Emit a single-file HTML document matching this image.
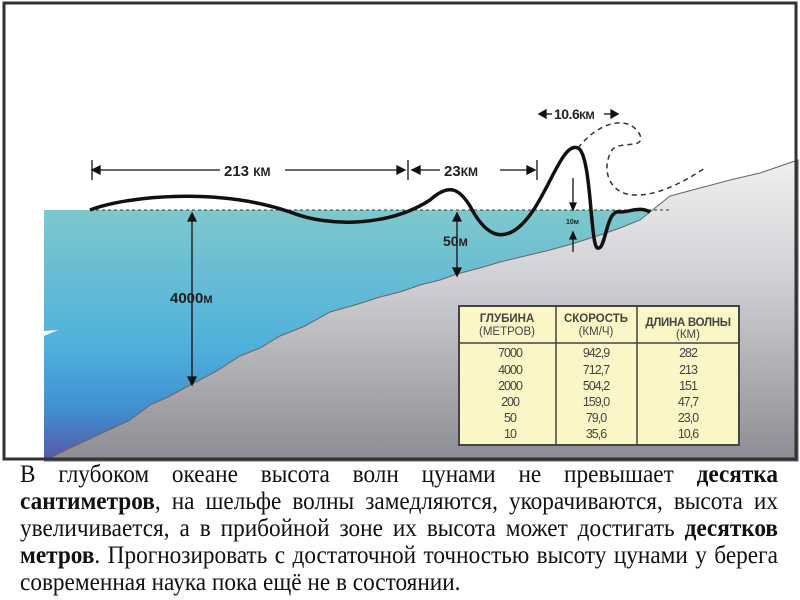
<!DOCTYPE html>
<html><head><meta charset="utf-8">
<style>
body{margin:0;width:800px;height:600px;background:#fff;overflow:hidden;position:relative;font-family:"Liberation Sans",sans-serif}
.txt{position:absolute;left:20px;width:815px;top:461px;font-family:"Liberation Serif",serif;font-size:25px;color:#111;transform:scaleX(0.93);transform-origin:0 0}
.l{height:27px;line-height:27px;text-align:justify;text-align-last:justify;white-space:nowrap;overflow:visible}
.l.last{text-align-last:left}
b{font-weight:bold}
</style></head><body>
<svg width="800" height="462" style="position:absolute;left:0;top:0" xmlns="http://www.w3.org/2000/svg">
<defs>
<linearGradient id="w" x1="0" y1="0" x2="0" y2="1">
<stop offset="0" stop-color="#7ec8cc"/>
<stop offset="0.55" stop-color="#4fb0dc"/>
<stop offset="0.8" stop-color="#3f8fd0"/>
<stop offset="1" stop-color="#5858a8"/>
</linearGradient>
<linearGradient id="g" x1="0" y1="0" x2="0" y2="1">
<stop offset="0" stop-color="#f0f0f2"/>
<stop offset="0.4" stop-color="#d0d0d4"/>
<stop offset="1" stop-color="#8c8c92"/>
</linearGradient>
</defs>
<rect x="0" y="0" width="800" height="462" fill="#fff"/>
<rect x="44" y="210" width="620" height="250" fill="url(#w)"/>
<path d="M30 332 L58 330 L44 336 L44 332Z" fill="#fff"/>
<path d="M44 461 L70 448 L100 434 L130 420 L150 405 L170 396 L190 385 L215 372 L240 356 L260 348 L280 336 L305 326 L330 312 L355 305 L380 297 L400 292 L420 285 L440 280 L457 274 L480 268 L500 262 L525 256 L550 250 L575 243 L600 235 L620 228 L640 220 L655 208 L670 196 L700 188 L730 180 L760 173 L798 160 L798 461 Z" fill="url(#g)" stroke="#666" stroke-width="1"/>
<line x1="90" y1="210" x2="672" y2="210" stroke="#333" stroke-width="1" stroke-dasharray="3,3"/>
<path d="M90 210 C130 195 220 188 290 212 C330 228 390 226 430 200 C450 182 460 190 470 206 C485 235 500 240 515 230 C545 210 560 140 578 148 C592 155 590 250 598 248 C606 250 606 208 620 212 C630 212 640 206 650 212" fill="none" stroke="#111" stroke-width="3.5"/>
<path d="M578 148 C600 120 630 115 640 135 C645 150 620 140 612 150 C600 170 610 195 635 195 C660 196 690 178 705 168" fill="none" stroke="#333" stroke-width="1.5" stroke-dasharray="5,4"/>
<g stroke="#111" stroke-width="1.3" fill="#111">
<line x1="92" y1="160" x2="92" y2="180"/><line x1="92" y1="170" x2="220" y2="170"/><line x1="285" y1="170" x2="405" y2="170"/>
<line x1="408" y1="160" x2="408" y2="180"/><line x1="412" y1="170" x2="440" y2="170"/><line x1="500" y1="170" x2="535" y2="170"/><line x1="537" y1="160" x2="537" y2="180"/>
<path d="M92 170 l8 -4 v8z M405 170 l-8 -4 v8z M412 170 l8 -4 v8z M535 170 l-8 -4 v8z"/>
<line x1="192" y1="214" x2="192" y2="382"/><path d="M192 213 l-4 8 h8z M192 385 l-4 -8 h8z"/>
<line x1="457" y1="214" x2="457" y2="274"/><path d="M457 213 l-4 8 h8z M457 276 l-4 -8 h8z"/>
<line x1="573" y1="178" x2="573" y2="210"/><path d="M573 210 l-3 -7 h6z"/>
<line x1="573" y1="232" x2="573" y2="252"/><path d="M573 232 l-3 7 h6z"/>
<line x1="543" y1="114" x2="552" y2="114"/><path d="M539 114 l7 -4 v8z"/>
<line x1="604" y1="114" x2="614" y2="114"/><path d="M618 114 l-7 -4 v8z"/>
</g>
<g font-family="Liberation Sans,sans-serif" font-weight="bold" fill="#222">
<text x="224" y="176" font-size="15">213 <tspan font-size="12">КМ</tspan></text>
<text x="444" y="176" font-size="15">23<tspan font-size="12">КМ</tspan></text>
<text x="554" y="119" font-size="14" letter-spacing="-0.5">10.6<tspan font-size="11">КМ</tspan></text>
<text x="443" y="246" font-size="14">50<tspan font-size="11">М</tspan></text>
<text x="170" y="303" font-size="15">4000<tspan font-size="11">М</tspan></text>
<text x="566" y="224" font-size="7">10м</text>
</g>
<rect x="459" y="306" width="280" height="139" fill="#fbf6c6" stroke="#444" stroke-width="2"/>
<line x1="459" y1="343" x2="739" y2="343" stroke="#444" stroke-width="1.5"/>
<line x1="556" y1="306" x2="556" y2="445" stroke="#444" stroke-width="1.5"/>
<line x1="637" y1="306" x2="637" y2="445" stroke="#444" stroke-width="1.5"/>
<g font-family="Liberation Sans,sans-serif" fill="#444" font-size="11.5" text-anchor="middle">
<text x="507" y="322" font-weight="bold">ГЛУБИНА</text><text x="507" y="335">(МЕТРОВ)</text>
<text x="596" y="322" font-weight="bold">СКОРОСТЬ</text><text x="596" y="335">(КМ/Ч)</text>
<text x="688" y="326" font-weight="bold" letter-spacing="-0.3">ДЛИНА  ВОЛНЫ</text><text x="688" y="338">(КМ)</text>
<g font-size="12.5" letter-spacing="-1">
<text x="510" y="357">7000</text><text x="596" y="357">942,9</text><text x="688" y="357">282</text>
<text x="510" y="374">4000</text><text x="596" y="374">712,7</text><text x="688" y="374">213</text>
<text x="510" y="390">2000</text><text x="596" y="390">504,2</text><text x="688" y="390">151</text>
<text x="510" y="406">200</text><text x="596" y="406">159,0</text><text x="688" y="406">47,7</text>
<text x="510" y="422">50</text><text x="596" y="422">79,0</text><text x="688" y="422">23,0</text>
<text x="510" y="438">10</text><text x="596" y="438">35,6</text><text x="688" y="438">10,6</text>
</g></g>
<rect x="4" y="3" width="792" height="456" fill="none" stroke="#333" stroke-width="3"/>
</svg>
<div class="txt">
<div class="l">В глубоком океане высота волн цунами не превышает <b>десятка</b></div>
<div class="l"><b>сантиметров</b>, на шельфе волны замедляются, укорачиваются, высота их</div>
<div class="l">увеличивается, а в прибойной зоне их высота может достигать <b>десятков</b></div>
<div class="l"><b>метров</b>. Прогнозировать с достаточной точностью высоту цунами у берега</div>
<div class="l last">современная наука пока ещё не в состоянии.</div>
</div>
</body></html>
